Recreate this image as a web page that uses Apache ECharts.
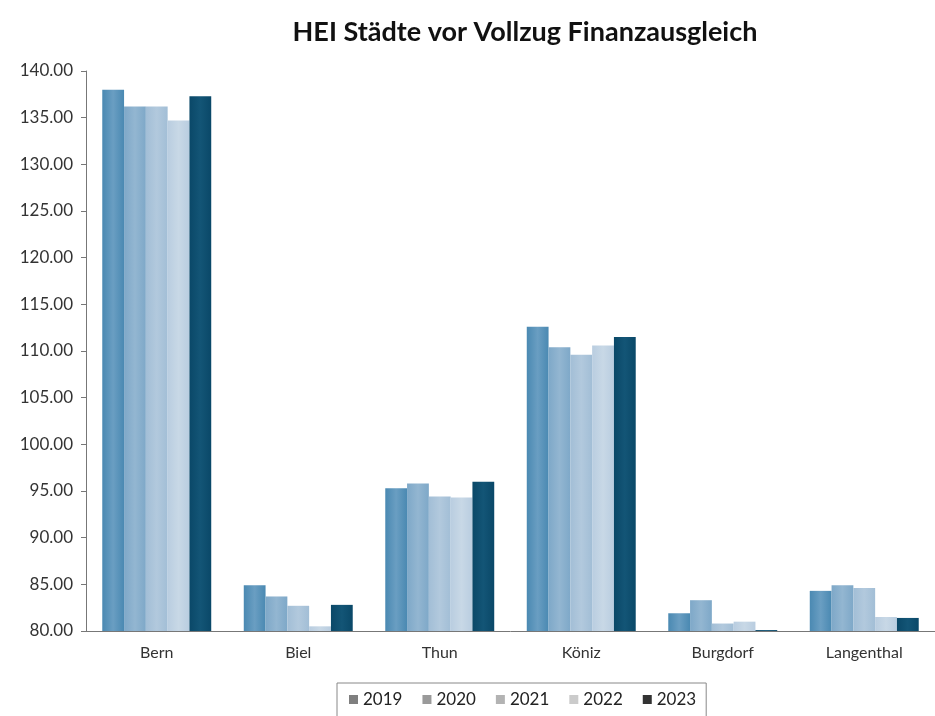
<!DOCTYPE html>
<html>
<head>
<meta charset="utf-8">
<script src="https://cdn.jsdelivr.net/npm/echarts@6/dist/echarts.min.js"></script>
<style>
	html, body { margin: 0; padding: 0; background: #fff; }
	#chart { width: 935px; height: 716px; }
</style>
</head>
<body>
<div id="chart"></div>
<script>
var cities = ["Bern", "Biel", "Thun", "Köniz", "Burgdorf", "Langenthal"];
var years = ["2019", "2020", "2021", "2022", "2023"];

var hei2019 = [138.0, 84.9, 95.3, 112.6, 81.9, 84.3];
var hei2020 = [136.2, 83.7, 95.8, 110.4, 83.3, 84.9];
var hei2021 = [136.2, 82.7, 94.4, 109.6, 80.8, 84.6];
var hei2022 = [134.7, 80.5, 94.3, 110.6, 81.0, 81.5];
var hei2023 = [137.3, 82.8, 96.0, 111.5, 80.1, 81.4];

var barColors = [
	["#4a89b2", "#6a9ec2"],
	["#7ea8c8", "#93b6d1"],
	["#a2bed6", "#b2c9dd"],
	["#b9cde0", "#c8d8e6"],
	["#0a4868", "#135576"],
];
var legendColors = ["#7f7f7f", "#9a9a9a", "#b3b3b3", "#cbcbcb", "#333333"];

function grad(c) {
	return new echarts.graphic.LinearGradient(0, 0, 1, 0, [
		{ offset: 0, color: c[0] },
		{ offset: 0.5, color: c[1] },
		{ offset: 1, color: c[0] },
	]);
}

var allData = [hei2019, hei2020, hei2021, hei2022, hei2023];
var series = [];
for (var i = 0; i < years.length; i++) {
	series.push({
		name: years[i],
		type: 'bar',
		data: allData[i],
		barGap: '0%',
		barCategoryGap: '23%',
		itemStyle: { color: grad(barColors[i]) },
	});
}

var legendData = [];
for (var i = 0; i < years.length; i++) {
	legendData.push({ name: years[i], itemStyle: { color: legendColors[i] } });
}

var myChart = echarts.init(document.getElementById("chart"));
var option = {
	animation: false,
	title: {
		text: 'HEI Städte vor Vollzug Finanzausgleich',
		left: 520,
		textAlign: 'center',
		top: 14,
		textStyle: {
			fontFamily: 'Lato',
			fontWeight: 'bold',
			fontSize: 27,
			color: '#111',
		},
	},
	legend: {
		data: legendData,
		left: 337,
		top: 683,
		icon: 'rect',
		itemWidth: 9,
		itemHeight: 9,
		itemGap: 20,
		borderColor: '#888',
		borderWidth: 1,
		padding: [8, 10, 12, 12],
		textStyle: { fontFamily: 'Lato', fontSize: 17, color: '#222' },
	},
	grid: {
		left: 86,
		right: -6,
		top: 71,
		bottom: 85,
	},
	xAxis: {
		type: 'category',
		data: cities,
		axisLine: { lineStyle: { color: '#777' } },
		axisTick: { length: 6, lineStyle: { color: '#777' } },
		axisLabel: { fontFamily: 'Lato', fontSize: 16, color: '#333', margin: 14 },
	},
	yAxis: {
		type: 'value',
		min: 80,
		max: 140,
		interval: 5,
		splitLine: { show: false },
		axisLine: { show: true, lineStyle: { color: '#777' } },
		axisTick: { show: true, length: 5, lineStyle: { color: '#777' } },
		axisLabel: {
			fontFamily: 'Lato',
			fontSize: 17,
			color: '#333',
			margin: 13,
			formatter: function(v) { return v.toFixed(2); },
		},
	},
	series: series,
};
option && myChart.setOption(option);
</script>
</body>
</html>
